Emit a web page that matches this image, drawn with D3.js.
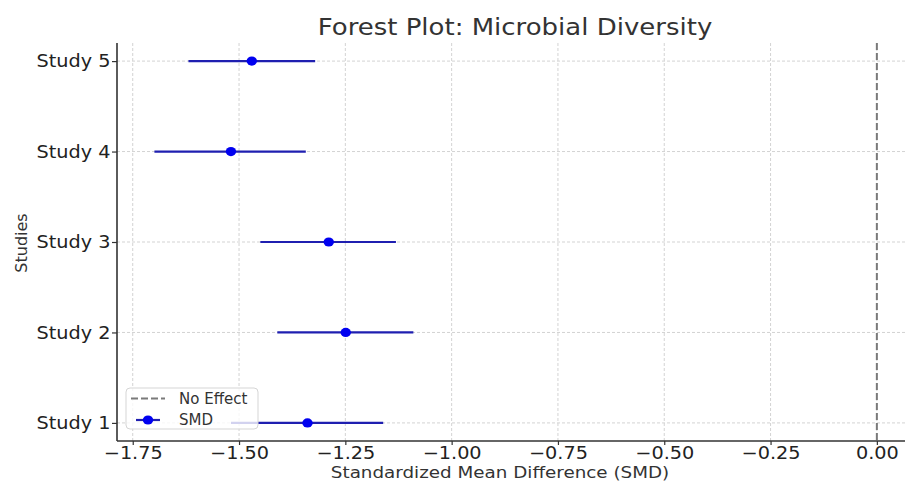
<!DOCTYPE html>
<html><head><meta charset="utf-8">
<script src="https://cdn.jsdelivr.net/npm/d3@7"></script>
<style>body{margin:0;background:#fff}svg{display:block}text{font-family:"DejaVu Sans",sans-serif}</style>
</head><body><svg id="c" width="905" height="482"></svg>
<script>
const studies = ["Study 1","Study 2","Study 3","Study 4","Study 5"];
const smd = [-1.339, -1.249, -1.289, -1.519, -1.470];
const ciLower = [-1.519, -1.410, -1.450, -1.699, -1.619];
const ciUpper = [-1.161, -1.090, -1.131, -1.343, -1.321];
const xTicks = [-1.75, -1.5, -1.25, -1.0, -0.75, -0.5, -0.25, 0];
const noEffect = 0;
const title = "Forest Plot: Microbial Diversity";
const xLabel = "Standardized Mean Difference (SMD)";
const yLabel = "Studies";
const legendLabels = ["No Effect", "SMD"];

const svg = d3.select("#c");
const L = 117, R = 913, T = 43, B = 441;
const SX = 1.1;
const x = d3.scaleLinear().domain([-1.787, 0.085]).range([L, R]);
const y = d3.scaleLinear().domain([-0.2, 4.2]).range([B, T]);
const yIdx = studies.map((s, i) => i);

// grid
const grid = svg.append("g");
grid.selectAll("line.gx").data(xTicks).join("line")
  .attr("x1", d => x(d)).attr("x2", d => x(d)).attr("y1", T).attr("y2", B)
  .attr("stroke", "#d3d3d3").attr("stroke-width", 1).attr("stroke-dasharray", "3,2");
grid.selectAll("line.gy").data(yIdx).join("line")
  .attr("x1", L).attr("x2", R).attr("y1", d => y(d)).attr("y2", d => y(d))
  .attr("stroke", "#d3d3d3").attr("stroke-width", 1).attr("stroke-dasharray", "3,2");

// no effect line
svg.append("line").attr("x1", x(noEffect)).attr("x2", x(noEffect)).attr("y1", T).attr("y2", B)
  .attr("stroke", "#7a7a7a").attr("stroke-width", 2).attr("stroke-dasharray", "7,3");

// error bars
svg.selectAll("line.ci").data(yIdx).join("line")
  .attr("x1", i => x(ciLower[i])).attr("x2", i => x(ciUpper[i]))
  .attr("y1", i => y(i)).attr("y2", i => y(i))
  .attr("stroke", "#1f1fb0").attr("stroke-width", 2.2);
svg.selectAll("ellipse.pt").data(yIdx).join("ellipse")
  .attr("cx", i => x(smd[i])).attr("cy", i => y(i)).attr("rx", 5.2).attr("ry", 4.6)
  .attr("fill", "#0000f0");

// axes
const xAxis = d3.axisBottom(x).tickValues(xTicks).tickFormat(d3.format(".2f")).tickSize(4).tickPadding(2);
const gx = svg.append("g").attr("transform", `translate(0,${B})`).call(xAxis);
const yAxis = d3.axisLeft(y).tickValues(yIdx).tickFormat(i => studies[i]).tickSize(5).tickPadding(1);
const gy = svg.append("g").attr("transform", `translate(${L},0)`).call(yAxis);
[gx, gy].forEach(g => {
  g.select(".domain").remove();
  g.selectAll(".tick line").attr("stroke", "#333").attr("stroke-width", 1.2);
  g.selectAll(".tick text").attr("fill", "#222").style("font-size", "17.5px")
    .attr("font-family", "DejaVu Sans").attr("transform", `scale(${SX},1)`);
});
gx.selectAll(".tick text").attr("y", 5.5);
svg.append("line").attr("x1", L).attr("x2", R).attr("y1", B).attr("y2", B).attr("stroke", "#333").attr("stroke-width", 1.6);
svg.append("line").attr("x1", L).attr("x2", L).attr("y1", T).attr("y2", B).attr("stroke", "#333").attr("stroke-width", 1.6);

// titles
svg.append("text").attr("transform", "translate(515,35) scale(1.13,1)").attr("text-anchor", "middle")
  .style("font-size", "23px").attr("fill", "#333").text(title);
svg.append("text").attr("transform", "translate(500,478) scale(1.11,1)").attr("text-anchor", "middle")
  .style("font-size", "16.5px").attr("fill", "#333").text(xLabel);
svg.append("text").attr("transform", "translate(27,243) rotate(-90)").attr("text-anchor", "middle")
  .style("font-size", "16px").attr("fill", "#333").text(yLabel);

// legend
const lg = svg.append("g");
lg.append("rect").attr("x", 126).attr("y", 388).attr("width", 132).attr("height", 41).attr("rx", 4)
  .attr("fill", "#fff").attr("fill-opacity", 0.8).attr("stroke", "#d5d5d5");
lg.append("line").attr("x1", 131).attr("x2", 165).attr("y1", 398.5).attr("y2", 398.5)
  .attr("stroke", "#7a7a7a").attr("stroke-width", 2).attr("stroke-dasharray", "7,3");
lg.append("line").attr("x1", 136).attr("x2", 160).attr("y1", 420).attr("y2", 420)
  .attr("stroke", "#1f1fb0").attr("stroke-width", 2.2);
lg.append("ellipse").attr("cx", 148).attr("cy", 420).attr("rx", 5.2).attr("ry", 4.6).attr("fill", "#0000f0");
lg.selectAll("text").data(legendLabels).join("text")
  .attr("x", 179).attr("y", (d, i) => 404 + i * 21)
  .style("font-size", "15px").attr("fill", "#333").text(d => d);
</script></body></html>
